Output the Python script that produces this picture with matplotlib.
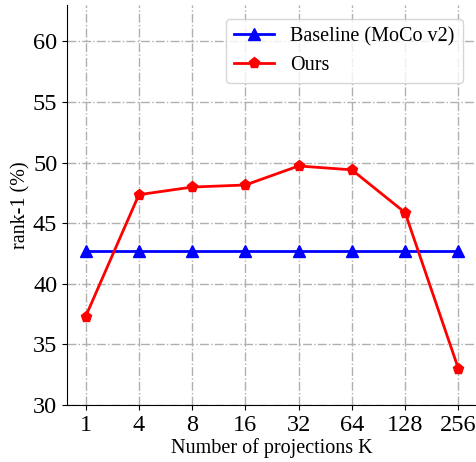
import matplotlib
matplotlib.use("Agg")
import matplotlib.pyplot as plt

k_labels = ["1", "4", "8", "16", "32", "64", "128", "256"]
baseline = [42.7, 42.7, 42.7, 42.7, 42.7, 42.7, 42.7, 42.7]
ours = [37.3, 47.35, 47.98, 48.15, 49.72, 49.4, 45.87, 33.0]

plt.rcParams['font.family'] = ['Liberation Serif', 'DejaVu Serif']

fig = plt.figure(figsize=(4.77, 4.62), dpi=100)
ax = fig.add_axes([67/477, 57/462, 410/477, 400/462])
x = list(range(len(k_labels)))
ax.plot(x, baseline, color='blue', marker='^', markersize=8, linewidth=2, label='Baseline (MoCo v2)')
ax.plot(x, ours, color='red', marker='p', markersize=8, linewidth=2, label='Ours')
ax.set_xticks(x)
ax.set_xticklabels(k_labels)
ax.set_xlim(-0.35, 7.35)
ax.set_ylim(30, 63)
ax.set_yticks([30, 35, 40, 45, 50, 55, 60])
ax.tick_params(labelsize=17.5)
ax.grid(True, linestyle='-.', color='#b0b0b0', linewidth=1)
ax.spines['top'].set_visible(False)
ax.spines['right'].set_visible(False)
ax.set_xlabel('Number of projections K', fontsize=14.5, labelpad=2)
ax.set_ylabel('rank-1 (%)', fontsize=14.5, labelpad=2)
ax.legend(loc='upper right', fontsize=14.5, borderaxespad=0.7, labelspacing=0.45,
          bbox_to_anchor=(1.0, 1.0))
fig.savefig('out.png', dpi=100)
